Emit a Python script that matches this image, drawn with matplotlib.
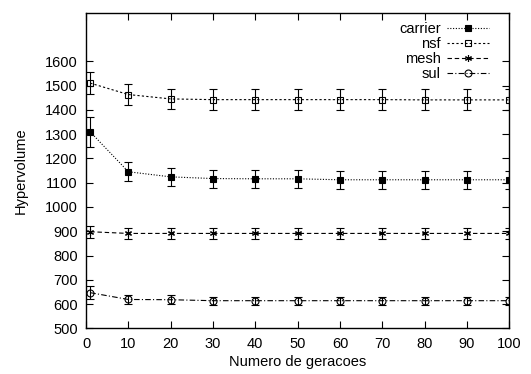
import matplotlib
matplotlib.use("Agg")
import matplotlib.pyplot as plt
from matplotlib.lines import Line2D

plt.rcParams['font.family'] = ['Liberation Sans', 'DejaVu Sans']

x = [1, 10, 20, 30, 40, 50, 60, 70, 80, 90, 100]
carrier = [1309, 1145, 1124, 1117, 1116, 1116, 1112, 1112, 1112, 1112, 1112]
carrier_err = [62, 40, 37, 37, 37, 37, 37, 37, 37, 37, 37]
nsf = [1510, 1463, 1445, 1442, 1442, 1442, 1442, 1442, 1441, 1441, 1441]
nsf_err = [46, 44, 42, 43, 43, 43, 43, 43, 43, 43, 43]
mesh = [898, 891, 891, 891, 891, 891, 891, 891, 891, 891, 891]
mesh_err = [24, 22, 22, 22, 22, 22, 22, 22, 22, 22, 22]
sul = [647, 619, 618, 614, 614, 614, 614, 614, 614, 614, 614]
sul_err = [26, 18, 18, 16, 16, 16, 16, 16, 16, 16, 16]

xticks = list(range(0, 101, 10))
yticks = list(range(500, 1601, 100))

FS = 10.5
fig = plt.figure(figsize=(5.31, 3.74), dpi=100)
ax = fig.add_axes([0.162, 0.122, 0.797, 0.844])

series = [
    ("carrier", carrier, carrier_err, dict(marker='s', mfc='black', linestyle=(0, (1, 1.5)))),
    ("nsf", nsf, nsf_err, dict(marker='s', mfc='none', linestyle=(0, (2, 2)))),
    ("mesh", mesh, mesh_err, dict(marker=(6, 2, 0), mfc='black', linestyle=(0, (4, 2.5)))),
    ("sul", sul, sul_err, dict(marker='o', mfc='none', linestyle=(0, (5, 2, 1, 2)))),
]
handles = []
for name, y, e, st in series:
    ax.errorbar(x, y, yerr=e, color='black', ecolor='black', elinewidth=0.8,
                capsize=2.8, capthick=0.8, linewidth=0.8, markersize=5,
                mec='black', mew=0.8, **st)
    handles.append(Line2D([], [], color='black', linewidth=0.8, markersize=5,
                          mec='black', mew=0.8, label=name, **st))

ax.set_xlim(0, 100)
ax.set_ylim(500, 1800)
ax.set_xticks(xticks)
ax.set_yticks(yticks)
ax.tick_params(direction='in', top=True, right=True, length=5, width=0.8, labelsize=FS)
ax.tick_params(axis='x', pad=6)
ax.tick_params(axis='y', pad=6)
for s in ax.spines.values():
    s.set_linewidth(1.0)
ax.set_xlabel("Numero de geracoes", fontsize=FS, labelpad=3)
ax.set_ylabel("Hypervolume", fontsize=FS, labelpad=12)

leg = ax.legend(handles=handles, loc='upper right', frameon=False, markerfirst=False,
                fontsize=FS, handlelength=2.9, labelspacing=0.08, handletextpad=0.4,
                borderpad=0, borderaxespad=0,
                bbox_to_anchor=(489 / 531, 1 - 22 / 374), bbox_transform=fig.transFigure)
for t in leg.get_texts():
    t.set_ha('right')
leg._legend_box.align = "right"

fig.savefig("out.png", dpi=100)
